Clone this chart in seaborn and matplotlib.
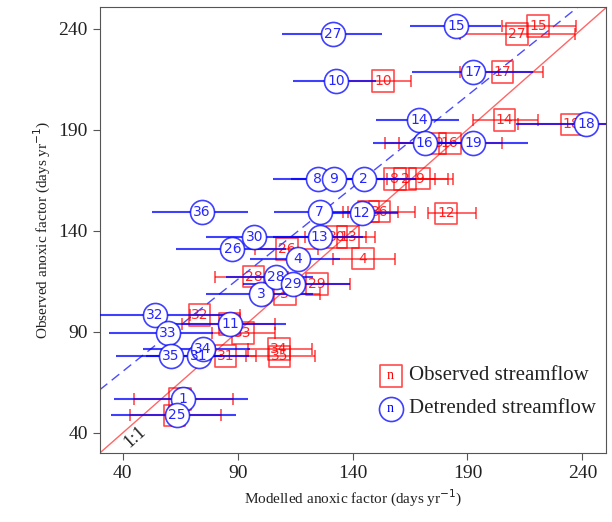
import numpy as np
import pandas as pd
import matplotlib
matplotlib.use("Agg")
import matplotlib.pyplot as plt
import seaborn as sns

# site numbers and observed anoxic factor (days/yr)
site = [1, 2, 3, 4, 7, 8, 9, 10, 11, 12, 13, 14, 15, 16, 17, 18, 19,
        25, 26, 27, 28, 29, 30, 31, 32, 33, 34, 35, 36]
observed = [56.8, 165.5, 108.6, 126.2, 149.4, 165.5, 165.8, 214.0, 93.9, 148.6,
            136.8, 194.8, 241.2, 183.2, 218.6, 192.6, 183.2,
            48.6, 131.0, 237.3, 117.3, 113.7, 136.8, 78.1, 98.2, 89.3, 81.4, 77.8, 149.4]

# modelled with observed streamflow (red) + range
obs_mod = [65.0, 162.8, 110.5, 144.6, 147.0, 158.4, 169.2, 153.3, 86.5, 180.6,
           138.0, 206.2, 220.8, 182.3, 205.2, 235.2, 176.0,
           62.5, 111.5, 211.5, 97.0, 124.6, 133.0, 84.8, 73.5, 92.4, 108.0, 108.3, 151.8]
obs_lo = [44.8, 148.0, 96.0, 131.5, 135.9, 142.0, 155.0, 137.3, 66.0, 172.9,
          126.0, 192.5, 205.2, 160.0, 186.7, 212.0, 154.0,
          43.3, 97.4, 186.7, 80.0, 110.0, 119.2, 72.0, 69.2, 79.0, 94.5, 93.8, 138.0]
obs_hi = [88.0, 181.6, 125.7, 158.4, 159.8, 176.0, 183.8, 165.6, 106.2, 193.9,
          149.7, 220.7, 237.1, 205.0, 222.9, 262.0, 195.0,
          82.9, 125.0, 236.7, 112.0, 138.8, 146.0, 98.2, 91.0, 106.2, 122.4, 123.6, 167.0]

# modelled with detrended streamflow (blue) + range
det_mod = [66.3, 144.9, 100.1, 116.3, 125.7, 124.9, 131.9, 133.0, 86.8, 143.9,
           125.7, 169.0, 185.2, 171.4, 192.5, 241.8, 192.5,
           63.4, 87.7, 131.4, 106.6, 114.1, 97.2, 73.2, 53.9, 59.7, 75.0, 60.8, 74.3]
det_lo = [36.2, 125.0, 76.1, 95.3, 105.9, 105.2, 113.4, 114.1, 60.5, 128.0,
          105.4, 150.4, 164.9, 148.9, 166.0, 211.3, 170.0,
          35.1, 63.1, 109.1, 85.1, 92.4, 76.1, 50.0, 25.0, 34.0, 48.9, 37.0, 52.9]
det_hi = [94.5, 167.8, 122.7, 134.4, 140.0, 150.0, 160.0, 150.4, 111.2, 159.8,
          144.6, 186.4, 204.8, 188.0, 218.6, 265.0, 216.4,
          89.2, 111.2, 152.6, 122.7, 138.8, 122.7, 95.0, 88.0, 79.3, 95.3, 83.0, 94.3]

ticks = [40, 90, 140, 190, 240]

df = pd.DataFrame({"site": site, "observed": observed,
                   "obs_mod": obs_mod, "obs_lo": obs_lo, "obs_hi": obs_hi,
                   "det_mod": det_mod, "det_lo": det_lo, "det_hi": det_hi})

sns.set_style("ticks")
plt.rcParams["font.family"] = ["Liberation Serif", "DejaVu Serif"]

red = (1, 0, 0, 0.7)
blue = (0, 0, 1, 0.75)

fig = plt.figure(figsize=(6.12, 5.22), dpi=100)
ax = fig.add_axes([0.163, 0.132, 0.828, 0.854])
lims = (30, 250.5)

# 1:1 line and dashed fit
xx = np.array(lims)
ax.plot(xx, xx, color=(1, 0, 0, 0.6), lw=1, zorder=1)
ax.plot(xx, 34 + 0.91 * xx, color=(0, 0, 1, 0.7), lw=1, dashes=(7, 4), zorder=1)
ax.text(45.5, 38, "1:1", rotation=42, ha="center", va="center", fontsize=13, color="#222222")

# red: observed streamflow
ax.errorbar(df["obs_mod"], df["observed"],
            xerr=[df["obs_mod"] - df["obs_lo"], df["obs_hi"] - df["obs_mod"]],
            fmt="none", ecolor=red, elinewidth=1.2, capsize=4, capthick=1.2, zorder=2)
sns.scatterplot(data=df, x="obs_mod", y="observed", marker="s", s=240,
                facecolor="none", edgecolor=red, linewidth=1.2, ax=ax, zorder=3)
for n, xv, yv in zip(site, obs_mod, observed):
    ax.text(xv, yv, str(n), color="red", fontsize=10, family="DejaVu Sans",
            ha="center", va="center", zorder=4, alpha=0.85)

# blue: detrended streamflow
ax.hlines(df["observed"], df["det_lo"], df["det_hi"], color=blue, lw=1.5, zorder=5)
sns.scatterplot(data=df, x="det_mod", y="observed", marker="o", s=300,
                facecolor="white", edgecolor=blue, linewidth=1.2, ax=ax, zorder=6)
for n, xv, yv in zip(site, det_mod, observed):
    ax.text(xv, yv, str(n), color="blue", fontsize=10, family="DejaVu Sans",
            ha="center", va="center", zorder=7, alpha=0.85)

# legend drawn by hand
ax.scatter([0.574], [0.173], marker="s", s=240, facecolor="white", edgecolor=red,
           linewidth=1.2, transform=ax.transAxes, zorder=8)
ax.text(0.574, 0.173, "n", color="red", fontsize=10, ha="center", va="center",
        transform=ax.transAxes, zorder=9)
ax.scatter([0.574], [0.099], marker="o", s=300, facecolor="white", edgecolor=blue,
           linewidth=1.2, transform=ax.transAxes, zorder=8)
ax.text(0.574, 0.099, "n", color="blue", fontsize=10, ha="center", va="center",
        transform=ax.transAxes, zorder=9)
ax.text(0.61, 0.173, "Observed streamflow", fontsize=15, va="center",
        color="#222222", transform=ax.transAxes)
ax.text(0.61, 0.099, "Detrended streamflow", fontsize=15, va="center",
        color="#222222", transform=ax.transAxes)

ax.set_xlim(lims)
ax.set_ylim(lims)
ax.set_xticks(ticks)
ax.set_yticks(ticks)
ax.tick_params(labelsize=14, length=5, color="#555555", labelcolor="#222222")
for s in ax.spines.values():
    s.set_color("#555555")
ax.set_xlabel("Modelled anoxic factor (days yr$^{-1}$)", fontsize=11, color="#222222")
ax.set_ylabel("Observed anoxic factor (days yr$^{-1}$)", fontsize=11, color="#222222")

fig.savefig("out.png", dpi=100)
